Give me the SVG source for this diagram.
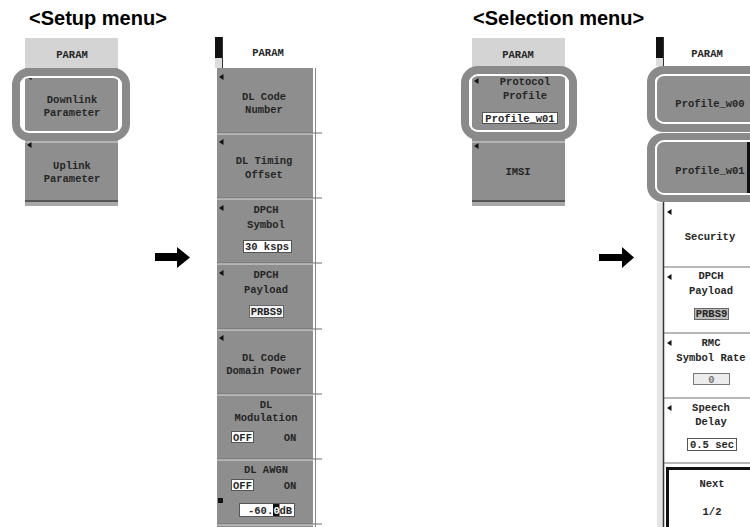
<svg xmlns="http://www.w3.org/2000/svg" width="750" height="527" viewBox="0 0 750 527">
<style>
.btn{fill:#8e8e8e}
.hdr{fill:#d4d4d4}
.t{font-family:"Liberation Mono","DejaVu Sans Mono",monospace;font-size:10.5px;font-weight:bold;fill:#262626;text-anchor:middle}
.ts{font-family:"Liberation Mono","DejaVu Sans Mono",monospace;font-size:10.5px;font-weight:bold;fill:#262626}
.title{font-family:"Liberation Sans",Arial,sans-serif;font-size:20px;font-weight:bold;fill:#000}
.ring{fill:none;stroke:#8a8a8a;stroke-width:8}
.ringin{fill:none;stroke:#fff;stroke-width:1.8}
.vbox{fill:#fff;stroke:#555;stroke-width:1}
.sep{stroke:#6e6e6e;stroke-width:1}
.sepl{stroke:#dcdcdc;stroke-width:1}
.tri{fill:#111}
</style>
<defs>
<path id="tri" d="M0,0 L4.5,-3 L4.5,3 Z"/>
<marker id="ah" viewBox="0 0 10 10" refX="0" refY="5" markerWidth="1" markerHeight="1"><path d="M0,0 L10,5 L0,10 Z"/></marker>
</defs>
<rect width="750" height="527" fill="#fff"/>

<text class="title" x="29" y="25">&lt;Setup menu&gt;</text>
<text class="title" x="473" y="25">&lt;Selection menu&gt;</text>

<!-- Left setup menu -->
<g id="setup-menu">
<rect class="hdr" x="25" y="38" width="93" height="30"/>
<text class="t" x="72" y="58">PARAM</text>
<rect class="btn" x="25" y="68" width="93" height="74"/>
<rect class="btn" x="25" y="142" width="93" height="58"/>
<line x1="25" y1="142" x2="118" y2="142" class="sepl"/>
<rect x="25" y="200" width="93" height="2" fill="#555"/>
<rect x="25" y="202" width="93" height="4" fill="#a8a8a8"/>
<use href="#tri" x="27" y="77" class="tri"/>
<use href="#tri" x="27" y="145" class="tri"/>
<text class="t" x="72" y="103">Downlink</text>
<text class="t" x="72" y="116">Parameter</text>
<text class="t" x="72" y="169">Uplink</text>
<text class="t" x="72" y="182">Parameter</text>
</g>
<g id="ring-downlink">
<rect class="ring" x="16" y="72" width="110" height="65" rx="13"/>
<rect class="ringin" x="21" y="77" width="100" height="55" rx="8"/>
</g>

<!-- Middle column -->
<g id="setup-submenu">
<rect x="215" y="37" width="7" height="21" fill="#111"/>
<rect x="215" y="58" width="7" height="10" fill="#ddd"/>
<line x1="222.5" y1="37" x2="222.5" y2="68" stroke="#333"/>
<text class="t" x="268" y="56">PARAM</text>
<rect class="btn" x="217" y="68" width="96" height="459"/>
<line x1="315.5" y1="68" x2="315.5" y2="527" stroke="#8a8a8a"/>
<g>
<line x1="217" y1="133" x2="322" y2="133" class="sep"/><line x1="217" y1="134" x2="313" y2="134" class="sepl"/>
<line x1="217" y1="198" x2="322" y2="198" class="sep"/><line x1="217" y1="199" x2="313" y2="199" class="sepl"/>
<line x1="217" y1="263" x2="322" y2="263" class="sep"/><line x1="217" y1="264" x2="313" y2="264" class="sepl"/>
<line x1="217" y1="329" x2="322" y2="329" class="sep"/><line x1="217" y1="330" x2="313" y2="330" class="sepl"/>
<line x1="217" y1="394" x2="322" y2="394" class="sep"/><line x1="217" y1="395" x2="313" y2="395" class="sepl"/>
<line x1="217" y1="459" x2="322" y2="459" class="sep"/><line x1="217" y1="460" x2="313" y2="460" class="sepl"/>
<line x1="217" y1="524" x2="322" y2="524" class="sep"/><line x1="217" y1="525" x2="313" y2="525" class="sepl"/>
</g>
<use href="#tri" x="219" y="77" class="tri"/>
<use href="#tri" x="219" y="142" class="tri"/>
<use href="#tri" x="219" y="208" class="tri"/>
<use href="#tri" x="219" y="273" class="tri"/>
<use href="#tri" x="219" y="338" class="tri"/>
<text class="t" x="264" y="100">DL Code</text>
<text class="t" x="264" y="113">Number</text>
<text class="t" x="264" y="164">DL Timing</text>
<text class="t" x="264" y="178">Offset</text>
<text class="t" x="266" y="213">DPCH</text>
<text class="t" x="266" y="228">Symbol</text>
<rect class="vbox" x="243.5" y="240.5" width="48" height="12"/>
<text class="t" x="267" y="250">30 ksps</text>
<text class="t" x="266" y="278">DPCH</text>
<text class="t" x="266" y="293">Payload</text>
<rect x="249.5" y="305.5" width="34" height="12" fill="#f2f2f2" stroke="#666"/>
<text class="t" x="266.5" y="315">PRBS9</text>
<text class="t" x="264" y="361">DL Code</text>
<text class="t" x="264" y="374">Domain Power</text>
<text class="t" x="266" y="408">DL</text>
<text class="t" x="266" y="421">Modulation</text>
<rect class="vbox" x="231.5" y="431.5" width="22" height="11"/>
<text class="t" x="242.5" y="440.5">OFF</text>
<text class="t" x="290" y="440.5">ON</text>
<text class="t" x="266" y="473">DL AWGN</text>
<rect class="vbox" x="231.5" y="479.5" width="22" height="11"/>
<text class="t" x="242.5" y="488.5">OFF</text>
<text class="t" x="290" y="488.5">ON</text>
<rect x="218" y="498" width="5" height="5" fill="#111"/>
<rect class="vbox" x="239.5" y="503.5" width="55" height="13"/>
<rect x="273" y="504" width="6.5" height="12" fill="#111"/>
<text class="ts" x="248" y="513.5">-60.</text>
<text class="ts" x="273.5" y="513.5" style="fill:#fff">0</text>
<text class="ts" x="279.5" y="513.5">dB</text>
</g>

<!-- Arrows -->
<g id="connectors">
<path d="M155,253 H177 V247 L190,257.5 L177,268 V261 H155 Z" fill="#000"/>
<path d="M599,254 H622 V247 L634,257.5 L622,268 V261 H599 Z" fill="#000"/>
</g>

<!-- Selection small menu -->
<g id="selection-menu">
<rect class="hdr" x="472" y="38" width="93" height="29"/>
<text class="t" x="518" y="58">PARAM</text>
<rect class="btn" x="472" y="67" width="93" height="75"/>
<rect class="btn" x="472" y="142" width="93" height="58"/>
<line x1="472" y1="142" x2="565" y2="142" class="sepl"/>
<rect x="472" y="200" width="93" height="2" fill="#555"/>
<rect x="472" y="202" width="93" height="4" fill="#a8a8a8"/>
<use href="#tri" x="474" y="81" class="tri"/>
<use href="#tri" x="474" y="146" class="tri"/>
<text class="t" x="525" y="85">Protocol</text>
<text class="t" x="525" y="99">Profile</text>
<rect class="vbox" x="482.5" y="112.5" width="75" height="11"/>
<text class="t" x="520" y="121.5">Profile_w01</text>
<text class="t" x="518" y="175">IMSI</text>
</g>
<g id="ring-protocol">
<rect class="ring" x="465" y="70" width="108" height="66" rx="13"/>
<rect class="ringin" x="470" y="75" width="98" height="56" rx="8"/>
</g>

<!-- Right column -->
<g id="selection-submenu">
<rect x="656" y="37" width="7" height="21" fill="#111"/>
<rect x="656" y="58" width="7" height="8" fill="#ddd"/>
<line x1="663.5" y1="37" x2="663.5" y2="66" stroke="#333"/>
<text class="t" x="707" y="57">PARAM</text>
<rect class="btn" x="657" y="70" width="93" height="60"/>
<rect class="btn" x="657" y="135" width="93" height="63"/>
<rect x="747" y="142" width="3" height="55" fill="#111"/>
<text class="t" x="710" y="107">Profile_w00</text>
<text class="t" x="710" y="174">Profile_w01</text>
<rect x="657" y="203" width="6" height="324" fill="#e6e6e6"/>
<line x1="663.5" y1="200" x2="663.5" y2="527" stroke="#333" stroke-width="1.5"/>
<line x1="664" y1="267" x2="750" y2="267" class="sep"/>
<line x1="664" y1="333" x2="750" y2="333" class="sep"/>
<line x1="664" y1="398" x2="750" y2="398" class="sep"/>
<line x1="664" y1="463" x2="750" y2="463" class="sep"/>
<use href="#tri" x="667" y="212" class="tri"/>
<use href="#tri" x="667" y="277" class="tri"/>
<use href="#tri" x="667" y="343" class="tri"/>
<use href="#tri" x="667" y="408" class="tri"/>
<text class="t" x="710" y="240">Security</text>
<text class="t" x="711" y="279">DPCH</text>
<text class="t" x="711" y="294">Payload</text>
<rect x="694.5" y="308.5" width="34" height="11" fill="#bdbdbd" stroke="#666"/>
<text class="t" x="711.5" y="317">PRBS9</text>
<text class="t" x="711" y="346">RMC</text>
<text class="t" x="711" y="361">Symbol Rate</text>
<rect x="693.5" y="373.5" width="36" height="11" fill="#ececec" stroke="#777"/>
<text class="t" x="711.5" y="382.5" style="fill:#777">0</text>
<text class="t" x="711" y="411">Speech</text>
<text class="t" x="711" y="425">Delay</text>
<rect class="vbox" x="687.5" y="438.5" width="49" height="12"/>
<text class="t" x="712" y="448">0.5 sec</text>
<path d="M667.5,531 V468.5 H754" fill="none" stroke="#111" stroke-width="3"/>
<text class="t" x="712" y="487">Next</text>
<text class="t" x="712" y="515">1/2</text>
</g>
<g id="ring-profiles">
<rect class="ring" x="651" y="70" width="120" height="58" rx="12"/>
<rect class="ringin" x="656" y="75" width="110" height="48" rx="8"/>
<rect class="ring" x="651" y="137" width="120" height="61" rx="12"/>
<rect class="ringin" x="656" y="141" width="110" height="53" rx="8"/>
</g>
</svg>
